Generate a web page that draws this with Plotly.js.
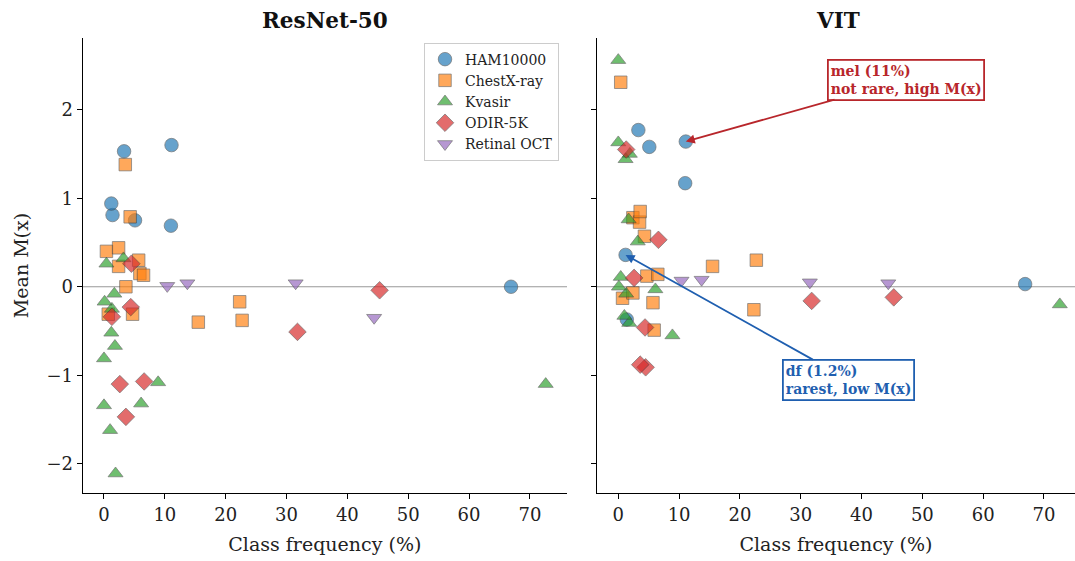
<!DOCTYPE html>
<html>
<head>
<meta charset="utf-8">
<script src="https://cdn.plot.ly/plotly-3.0.1.min.js"></script>
<style>html,body{margin:0;padding:0;background:#fff;}#chart{width:1075px;height:561px;}</style>
</head>
<body>
<div id="chart"></div>
<script>
// ---- data (class frequency %, mean M(x)) ----
const datasets = ["HAM10000", "ChestX-ray", "Kvasir", "ODIR-5K", "Retinal OCT"];

const hamFreq = [66.9, 11.1, 11.0, 5.1, 3.3, 1.4, 1.2];
const hamResNet = [0.00, 1.60, 0.69, 0.75, 1.53, 0.81, 0.94];
const hamViT = [0.03, 1.64, 1.17, 1.58, 1.77, -0.37, 0.36];

const chestFreq = [0.4, 0.7, 2.4, 2.4, 3.5, 3.6, 4.3, 4.7, 5.7, 5.9, 6.5, 15.5, 22.3, 22.7];
const chestResNet = [0.40, -0.31, 0.44, 0.23, 1.38, 0.00, 0.79, -0.31, 0.30, 0.15, 0.13, -0.40, -0.17, -0.38];
const chestViT = [2.31, -0.13, 0.78, -0.07, 0.73, 0.85, 0.57, 0.12, -0.18, -0.49, 0.14, 0.23, -0.26, 0.30];

const kvFreq = [72.6, 8.9, 6.1, 3.2, 1.9, 1.8, 1.7, 1.3, 1.2, 1.0, 0.4, 0.1, 0.0, 0.0];
const kvResNet = [-1.10, -1.08, -1.32, 0.32, -2.11, -0.67, -0.08, -0.25, -0.52, -1.62, 0.26, -0.17, -0.81, -1.34];
const kvViT = [-0.20, -0.55, -0.03, 0.51, 1.50, -0.41, 0.76, -0.08, 1.44, -0.33, 0.11, 0.00, 2.56, 1.63];

const odirFreq = [45.3, 31.8, 6.6, 4.5, 4.4, 3.6, 2.6, 1.3];
const odirResNet = [-0.04, -0.51, -1.07, 0.26, -0.23, -1.47, -1.10, -0.34];
const odirViT = [-0.12, -0.16, 0.53, -0.91, -0.46, -0.88, 0.10, 1.55];

const octFreq = [44.4, 31.5, 13.7, 10.4];
const octResNet = [-0.35, 0.04, 0.04, 0.01];
const octViT = [0.04, 0.05, 0.08, 0.07];

const panelTitles = ["ResNet-50", "VIT"];
const yTickVals = [-2, -1, 0, 1, 2];
const xTickVals = [0, 10, 20, 30, 40, 50, 60, 70];

// ---- styles ----
const colors = ["#1f77b4", "#ff7f0e", "#2ca02c", "#d62728", "#9467bd"];
const symbols = ["circle", "square", "triangle-up", "diamond", "triangle-down"];
const sizes = [13.5, 12.5, 13, 13.5, 13];
const FONT = "DejaVu Serif, Liberation Serif, serif";

const freqs = [hamFreq, chestFreq, kvFreq, odirFreq, octFreq];
const resnetVals = [hamResNet, chestResNet, kvResNet, odirResNet, octResNet];
const vitVals = [hamViT, chestViT, kvViT, odirViT, octViT];

const traces = [];
[resnetVals, vitVals].forEach((vals, p) => {
  datasets.forEach((name, i) => {
    traces.push({
      type: "scatter", mode: "markers", name: name,
      x: freqs[i], y: vals[i],
      xaxis: p === 0 ? "x" : "x2", yaxis: p === 0 ? "y" : "y2",
      showlegend: p === 0, legendgroup: name,
      marker: {symbol: symbols[i], size: sizes[i], color: colors[i], opacity: 0.68,
               line: {color: "#333333", width: 0.7}},
      hoverinfo: "x+y+name"
    });
  });
});

const axisCommon = {
  showline: true, linecolor: "#000", linewidth: 1.3, mirror: false,
  ticks: "outside", ticklen: 5, tickwidth: 1.3, tickcolor: "#000",
  showgrid: false, zeroline: false,
  tickfont: {family: FONT, size: 18, color: "#222"}
};
const titleFont = {family: FONT, size: 19, color: "#222"};

const layout = {
  width: 1075, height: 561,
  margin: {l: 0, r: 0, t: 38, b: 68},
  paper_bgcolor: "#fff", plot_bgcolor: "#fff",
  font: {family: FONT, color: "#222"},
  showlegend: true,
  legend: {x: 424/1075, y: 0.99, xanchor: "left", yanchor: "top",
           bgcolor: "rgba(255,255,255,0.9)", bordercolor: "#cccccc", borderwidth: 1,
           font: {family: FONT, size: 14, color: "#222"}, tracegroupgap: 0},
  xaxis: Object.assign({}, axisCommon, {domain: [82.7/1075, 567/1075], range: [-3.5, 76.1],
           tickvals: xTickVals, anchor: "y",
           title: {text: "Class frequency (%)", font: titleFont, standoff: 13}}),
  xaxis2: Object.assign({}, axisCommon, {domain: [597/1075, 1], range: [-3.5, 75.1],
           tickvals: xTickVals, anchor: "y2",
           title: {text: "Class frequency (%)", font: titleFont, standoff: 13}}),
  yaxis: Object.assign({}, axisCommon, {domain: [0, 1], range: [-2.33, 2.81], tickvals: yTickVals,
           anchor: "x",
           title: {text: "Mean M(x)", font: titleFont, standoff: 12}}),
  yaxis2: Object.assign({}, axisCommon, {domain: [0, 1], range: [-2.33, 2.81], tickvals: yTickVals,
           anchor: "x2", showticklabels: false, matches: "y"}),
  shapes: [
    {type: "line", xref: "x domain", yref: "y", x0: 0, x1: 1, y0: 0, y1: 0,
     line: {color: "#999999", width: 1.2}, layer: "below"},
    {type: "line", xref: "x2 domain", yref: "y2", x0: 0, x1: 1, y0: 0, y1: 0,
     line: {color: "#999999", width: 1.2}, layer: "below"}
  ],
  annotations: [
    {text: "<b>" + panelTitles[0] + "</b>", xref: "paper", yref: "paper",
     x: 325/1075, y: 1, yshift: 18, xanchor: "center", yanchor: "middle", showarrow: false,
     font: {family: FONT, size: 21.5, color: "#111"}},
    {text: "<b>" + panelTitles[1] + "</b>", xref: "paper", yref: "paper",
     x: 838/1075, y: 1, yshift: 18, xanchor: "center", yanchor: "middle", showarrow: false,
     font: {family: FONT, size: 21.5, color: "#111"}},
    {text: "<b>mel (11%)<br>not rare, high M(x)</b>", xref: "x2", yref: "y2",
     x: hamFreq[1], y: hamViT[1], axref: "x2", ayref: "y2", ax: 47.3, ay: 2.34,
     showarrow: true, arrowhead: 2, arrowsize: 1, arrowwidth: 1.8, arrowcolor: "#b8262b",
     align: "left", bgcolor: "#fff", bordercolor: "#b8262b", borderwidth: 1.8, borderpad: 2,
     font: {family: FONT, size: 14, color: "#b8262b"}},
    {text: "<b>df (1.2%)<br>rarest, low M(x)</b>", xref: "x2", yref: "y2",
     x: hamFreq[6], y: hamViT[6], axref: "x2", ayref: "y2", ax: 37.9, ay: -1.05,
     showarrow: true, arrowhead: 2, arrowsize: 1, arrowwidth: 1.8, arrowcolor: "#1f5fb0",
     align: "left", bgcolor: "#fff", bordercolor: "#1f5fb0", borderwidth: 1.8, borderpad: 2,
     font: {family: FONT, size: 14, color: "#1f5fb0"}}
  ]
};

Plotly.newPlot("chart", traces, layout, {displayModeBar: false, staticPlot: false});
</script>
</body>
</html>
